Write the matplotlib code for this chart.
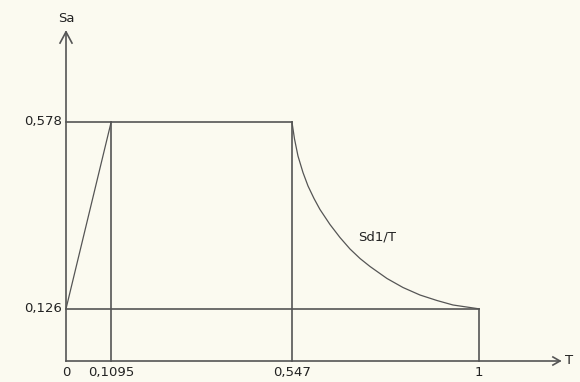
import matplotlib
matplotlib.use("Agg")
import matplotlib.pyplot as plt

# Key periods and spectral accelerations
T0 = 0.1095
Ts = 0.547
T1 = 1.0
SDS = 0.578
S0 = 0.126

# Descending branch
curve_T = [0.547, 0.5533, 0.5617, 0.5738, 0.586, 0.6005, 0.615, 0.6392, 0.6634,
           0.6877, 0.7119, 0.7361, 0.7772, 0.816, 0.8571, 0.8983, 0.937, 1.0]
curve_Sa = [0.578, 0.5362, 0.4952, 0.4553, 0.4227, 0.3925, 0.3659, 0.3297, 0.2983,
            0.2705, 0.2476, 0.2283, 0.1993, 0.1775, 0.1594, 0.1461, 0.1353, 0.126]

x_tick_vals = [0.0, 0.1095, 0.547, 1.0]
x_tick_labels = ["0", "0,1095", "0,547", "1"]
y_tick_vals = [0.578, 0.126]
y_tick_labels = ["0,578", "0,126"]

bg = "#FBFAF0"
lc = "#555555"
tc = "#222222"

fig = plt.figure(figsize=(5.8, 3.82), dpi=100, facecolor=bg)
ax = fig.add_axes([0, 0, 1, 1])
ax.set_facecolor(bg)
ax.set_xlim(-66 / 413, (580 - 66) / 413)
ax.set_ylim((361 - 382) / 414, 361 / 414)
ax.axis("off")

lw = 1.2
# axes
ax.plot([0, 0], [0, 0.795], color=lc, lw=lw)
ax.plot([-0.0145, 0, 0.0145], [0.768, 0.795, 0.768], color=lc, lw=lw)
ax.plot([0, 1.196], [0, 0], color=lc, lw=lw)
ax.plot([1.179, 1.196, 1.179], [0.0097, 0, -0.0097], color=lc, lw=lw)

# frame lines
ax.plot([0, Ts], [SDS, SDS], color=lc, lw=lw)
ax.plot([0, T1], [S0, S0], color=lc, lw=lw)
ax.plot([T0, T0], [0, SDS], color=lc, lw=lw)
ax.plot([Ts, Ts], [0, SDS], color=lc, lw=lw)
ax.plot([T1, T1], [0, S0], color=lc, lw=lw)

# ramp and descending branch
ax.plot([0, T0], [S0, SDS], color=lc, lw=0.9)
ax.plot(curve_T, curve_Sa, color=lc, lw=0.9, solid_joinstyle="round")

fs = 9.5
for v, lab in zip(x_tick_vals, x_tick_labels):
    ax.text(v, -0.028, lab, ha="center", va="center", fontsize=fs, color=tc)
for v, lab in zip(y_tick_vals, y_tick_labels):
    ax.text(-0.01, v, lab, ha="right", va="center", fontsize=fs, color=tc)

ax.text(0, 0.812, "Sa", ha="center", va="bottom", fontsize=fs, color=tc)
ax.text(1.208, 0.0, "T", ha="left", va="center", fontsize=fs, color=tc)
ax.text(0.753, 0.300, "Sd1/T", ha="center", va="center", fontsize=fs, color=tc)

fig.savefig("out.png", dpi=100, facecolor=bg)
